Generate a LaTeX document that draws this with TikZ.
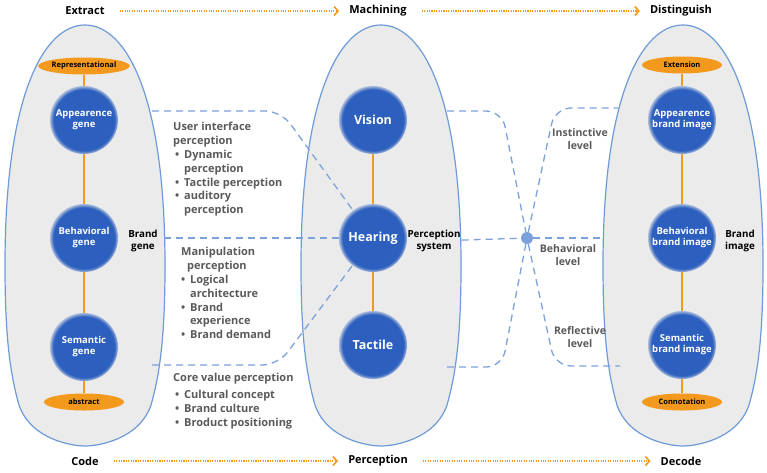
\documentclass[tikz,border=0pt]{standalone}
\usepackage{fontspec}
\setmainfont{Open Sans}
\usetikzlibrary{shapes.geometric,arrows.meta}
\definecolor{eggfill}{HTML}{EBEBEB}
\definecolor{eggline}{HTML}{6E9BD8}
\definecolor{cblue}{HTML}{2C5FBE}
\definecolor{aorange}{HTML}{F39A1E}
\definecolor{dblue}{HTML}{7DA2DB}
\definecolor{dotblue}{HTML}{7CA0DA}
\definecolor{gtext}{HTML}{5A5A5A}
\pgfdeclareradialshading{blurcirc}{\pgfpoint{0bp}{0bp}}{color(0bp)=(cblue); color(22.5bp)=(cblue); color(25bp)=(cblue!35!eggfill); color(50bp)=(eggfill)}
\newcommand\bul{\hspace*{2pt}\makebox[9pt][l]{•}}
\newcommand\bulb{\makebox[9pt][l]{•}}
\begin{document}
\begin{tikzpicture}[x=1pt,y=-1pt,
  egg/.style={fill=eggfill, draw=eggline, line width=1.2pt},
  gene/.style={circle, minimum size=68pt, inner sep=0pt, shade, shading=blurcirc, text=white, align=center, font=\bfseries\fontsize{9.5}{11}\selectfont},
  sense/.style={gene, font=\bfseries\fontsize{12.5}{14}\selectfont},
  tag/.style={ellipse, fill=aorange, minimum width=80pt, minimum height=17pt, inner sep=0pt, font=\bfseries\fontsize{7.5}{8.5}\selectfont},
  oline/.style={draw=aorange, line width=1.3pt},
  dashline/.style={draw=dblue, line width=1.3pt, dash pattern=on 7pt off 5pt},
  arr/.style={draw=aorange, line width=1.6pt, dash pattern=on 1.1pt off 1.3pt, -{Straight Barb[length=4pt,width=9pt,line width=1.6pt]}},
  title/.style={inner sep=0pt, font=\bfseries\fontsize{11}{13}\selectfont},
  side/.style={inner sep=1pt, align=center, font=\bfseries\fontsize{9.8}{12}\selectfont},
  level/.style={inner sep=0pt, align=center, text=gtext, font=\bfseries\fontsize{10.5}{13.5}\selectfont},
  block/.style={anchor=north west, align=left, inner sep=0pt, text=gtext, font=\bfseries\fontsize{11}{13.8}\selectfont}]
\useasboundingbox (0,0) rectangle (767,472);
\fill[white] (0,0) rectangle (767,472);
% eggs
\foreach \cx in {85,381,683}{
  \draw[egg, shift={(\cx,0)}] (0,25) .. controls (40,25) and (80,92) .. (80,265)
    .. controls (80,330) and (76,370) .. (66,405)
    .. controls (54,440) and (12,446) .. (0,446)
    .. controls (-12,446) and (-54,440) .. (-66,405)
    .. controls (-76,370) and (-80,330) .. (-80,265)
    .. controls (-80,92) and (-40,25) .. (0,25) -- cycle;
}
% left column
\node[tag] (rep) at (84,66) {Representational};
\node[gene] (ag) at (84,120) {Appearence\\gene};
\node[gene] (bg) at (84,238) {Behavioral\\gene};
\node[gene] (sg) at (84,347) {Semantic\\gene};
\node[tag] (abs) at (84,402) {abstract};
% middle column
\node[sense] (vis) at (373,120) {Vision};
\node[sense] (hear) at (373,238) {Hearing};
\node[sense] (tac) at (373,345) {Tactile};
% right column
\node[tag] (ext) at (682,65) {Extension};
\node[gene] (abi) at (682,120) {Appearence\\brand image};
\node[gene] (bbi) at (682,238) {Behavioral\\brand image};
\node[gene] (sbi) at (682,345) {Semantic\\brand image};
\node[tag] (con) at (682,402) {Connotation};
% orange links
\draw[oline] (rep) -- (ag);
\draw[oline] (ag) -- (bg);
\draw[oline] (bg) -- (sg);
\draw[oline] (sg) -- (abs);
\draw[oline] (vis) -- (hear);
\draw[oline] (hear) -- (tac);
\draw[oline] (ext) -- (abi);
\draw[oline] (abi) -- (bbi);
\draw[oline] (bbi) -- (sbi);
\draw[oline] (sbi) -- (con);
% side labels
\node[side] (bgl) at (143,241) {Brand\\gene};
\node[side] (psys) at (434,241) {Perception\\system};
\node[side] (bil) at (740,241) {Brand\\image};
% titles and arrows
\node[title] (t1) at (85,11) {Extract};
\node[title] (t2) at (378,11) {Machining};
\node[title] (t3) at (681,11) {Distinguish};
\node[title] (b1) at (85,461) {Code};
\node[title] (b2) at (378,461) {Perception};
\node[title] (b3) at (681,461) {Decode};
\draw[arr, shorten <=15pt, shorten >=10pt] (t1) -- (t2);
\draw[arr, shorten <=15pt, shorten >=10pt] (t2) -- (t3);
\draw[arr, shorten <=15pt, shorten >=10pt] (b1) -- (b2);
\draw[arr, shorten <=15pt, shorten >=10pt] (b2) -- (b3);
% dashed connectors
\node[circle, fill=dotblue, minimum size=12pt, inner sep=0pt] (dot) at (527,238) {};
\coordinate (l1) at (152,111);
\coordinate (l2) at (164,238);
\coordinate (l3) at (152,365);
\coordinate (m1) at (447,111);
\coordinate (m3) at (447,367);
\coordinate (r1) at (618,108);
\coordinate (r2) at (605,238);
\coordinate (r3) at (620,366);
\draw[dashline, rounded corners=16pt] (l1) -- (281,111) -- (hear);
\draw[dashline] (l2) -- (hear);
\draw[dashline, rounded corners=16pt] (l3) -- (278,365) -- (hear);
\draw[dashline] (psys) -- (dot);
\draw[dashline] (dot) -- (r2);
\draw[dashline, rounded corners=16pt] (m1) -- (502,111) -- (dot);
\draw[dashline, rounded corners=16pt] (m3) -- (502,367) -- (dot);
\draw[dashline, rounded corners=16pt] (dot) -- (555,108) -- (r1);
\draw[dashline, rounded corners=16pt] (dot) -- (555,366) -- (r3);
% level labels
\node[level] (inst) at (580,139) {Instinctive\\level};
\node[level] (behl) at (568,255) {Behavioral\\level};
\node[level] (refl) at (580,337) {Reflective\\level};
% text blocks
\node[block] (uip) at (173,122.3) {User interface\\perception\\\bul Dynamic\\\hspace*{11pt}perception\\\bul Tactile perception\\\bul auditory\\\hspace*{11pt}perception};
\node[block] (mp) at (181,247.3) {Manipulation\\\hspace*{6pt}perception\\\bulb Logical\\\hspace*{9pt}architecture\\\bulb Brand\\\hspace*{9pt}experience\\\bulb Brand demand};
\node[block] (cvp) at (173,373.3) {Core value perception\\[3pt]\bul Cultural concept\\\bul Brand culture\\\bul Broduct positioning};
\end{tikzpicture}
\end{document}
